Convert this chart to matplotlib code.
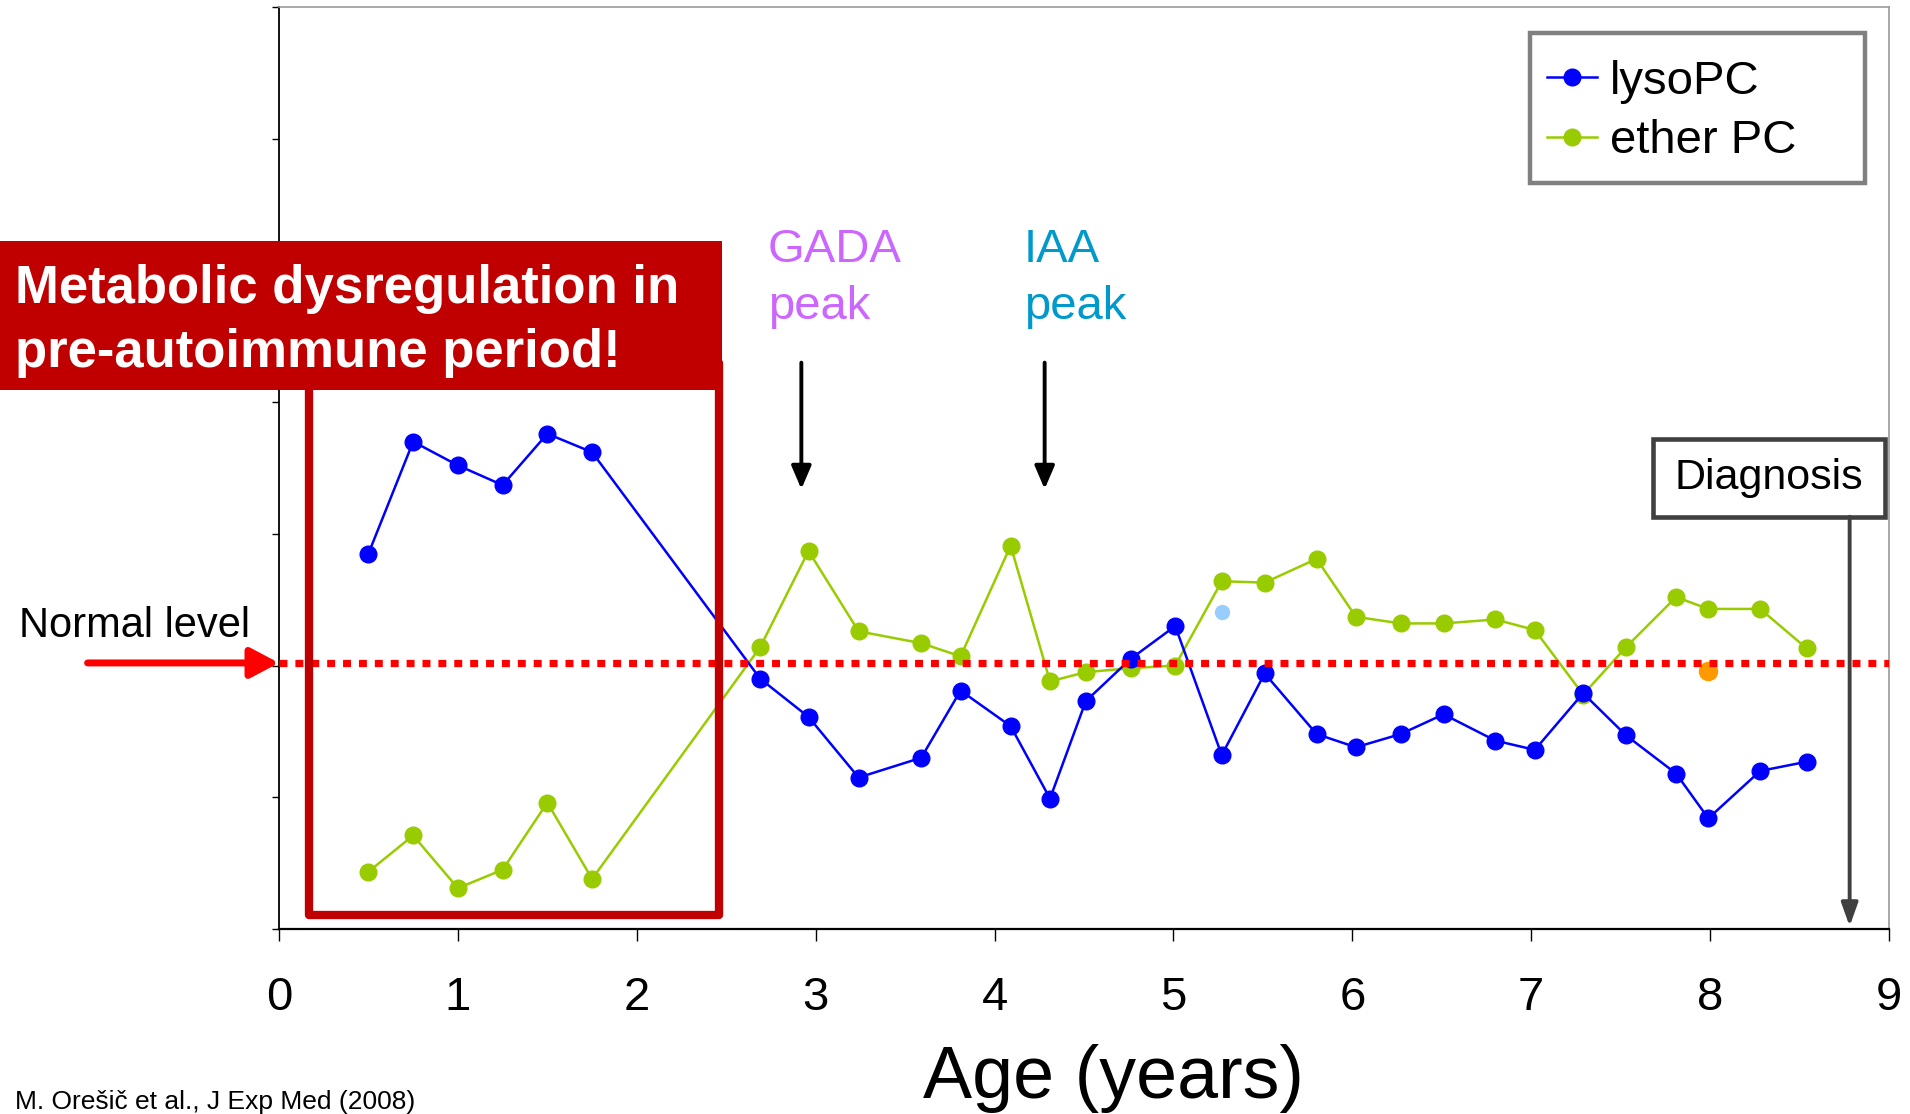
import matplotlib
matplotlib.use("Agg")
import matplotlib.pyplot as plt
from matplotlib.patches import Rectangle

#  DATA
age = [0.5, 0.75, 1.0, 1.25, 1.5, 1.75, 2.69, 2.96, 3.24, 3.59,
       3.81, 4.09, 4.31, 4.51, 4.76, 5.01, 5.27, 5.51, 5.80, 6.02,
       6.27, 6.51, 6.80, 7.02, 7.29, 7.53, 7.81, 7.99, 8.28, 8.54]
lyso_pc = [2.85, 3.70, 3.52, 3.37, 3.76, 3.62, 1.90, 1.61, 1.15, 1.30,
           1.81, 1.54, 0.99, 1.73, 2.05, 2.30, 1.32, 1.94, 1.48, 1.38,
           1.48, 1.63, 1.43, 1.36, 1.79, 1.47, 1.18, 0.84, 1.20, 1.27]
ether_pc = [0.435, 0.71, 0.31, 0.45, 0.96, 0.38, 2.14, 2.87, 2.26, 2.17,
            2.07, 2.91, 1.88, 1.95, 1.98, 2.00, 2.64, 2.63, 2.81, 2.37,
            2.32, 2.32, 2.35, 2.27, 1.78, 2.14, 2.52, 2.43, 2.43, 2.13]
# stray single points
extra_x = [5.27, 7.99]
extra_y = [2.41, 1.96]
extra_colors = ['#99CCFF', '#FF9900']
extra_sizes = [10, 13]

normal_level = 2.02
x_ticks = list(range(10))
y_ticks = list(range(8))

gada_age = 2.92
iaa_age = 4.28
diagnosis_age = 8.78

FONT = 'Liberation Sans'
plt.rcParams['font.family'] = [FONT, 'DejaVu Sans']

W, H = 1910, 1114
fig = plt.figure(figsize=(W / 100, H / 100), dpi=100)
ax = fig.add_axes([279 / W, 1 - 929 / H, (1889 - 279) / W, (929 - 7) / H])


def fx(px):
    return px / W


def fy(py):
    return 1 - py / H


#  SERIES
ax.plot(age, lyso_pc, color='#0000FF', lw=1.8, marker='o', ms=12,
        label='lysoPC', zorder=4)
ax.plot(age, ether_pc, color='#99CC00', lw=1.8, marker='o', ms=12,
        label='ether PC', zorder=3)
for x, y, c, s in zip(extra_x, extra_y, extra_colors, extra_sizes):
    ax.plot([x], [y], 'o', color=c, ms=s, zorder=5)

# normal level dotted line
ax.axhline(normal_level, color='#FF0000', lw=5.2, dashes=(1.1, 1.1), zorder=6)

#  AXES
ax.set_xlim(0, 9)
ax.set_ylim(0, 7)
ax.set_xticks(x_ticks)
ax.set_xticklabels([str(t) for t in x_ticks], fontsize=34, family=FONT)
ax.set_yticks(y_ticks)
ax.set_yticklabels([])
ax.tick_params(axis='x', length=8.5, width=1, pad=25, direction='out')
ax.tick_params(axis='y', length=5, width=1, direction='out')
ax.spines['left'].set_linewidth(1.3)
ax.spines['bottom'].set_linewidth(1.6)
for s in ['top', 'right']:
    ax.spines[s].set_color('#999999')
    ax.spines[s].set_linewidth(1.2)

fig.text(fx(1113), fy(1098), 'Age (years)', fontsize=53, ha='center',
         va='baseline', family=FONT)

#  LEGEND (frame drawn separately so it can be wider than the entries)
ax.add_patch(Rectangle((fx(1530), fy(183)), fx(1865) - fx(1530),
                       fy(33) - fy(183), transform=fig.transFigure,
                       fc='white', ec='#808080', lw=3.2, zorder=9,
                       clip_on=False))
leg = ax.legend(loc='upper left', bbox_to_anchor=(fx(1547), fy(60)),
                bbox_transform=fig.transFigure, borderaxespad=0,
                handlelength=1.06, handletextpad=0.28,
                labelspacing=0.32, borderpad=0, frameon=False,
                prop={'family': FONT, 'size': 34})
leg.set_zorder(10)
for h in leg.legend_handles:
    h.set_markersize(12)

#  PRE-AUTOIMMUNE BOX + BANNER
ax.add_patch(Rectangle((0.17, 0.11), 2.46 - 0.17, 4.3 - 0.11, fill=False,
                       ec='#C00000', lw=6, joinstyle='round', zorder=7,
                       clip_on=False))
fig.patches.append(Rectangle((0, fy(390)), fx(722), fy(241) - fy(390),
                             transform=fig.transFigure, fc='#C00000',
                             ec='none', zorder=10))
fig.text(fx(15), fy(303), 'Metabolic dysregulation in', color='white',
         fontsize=38, fontweight='bold', va='baseline', zorder=11, family=FONT)
fig.text(fx(15), fy(367), 'pre-autoimmune period!', color='white',
         fontsize=38, fontweight='bold', va='baseline', zorder=11, family=FONT)

#  PEAK ANNOTATIONS
fig.text(fx(768), fy(262), 'GADA', color='#CC66FF', fontsize=34,
         va='baseline', family=FONT)
fig.text(fx(768), fy(319), 'peak', color='#CC66FF', fontsize=34,
         va='baseline', family=FONT)
fig.text(fx(1024), fy(262), 'IAA', color='#0099CC', fontsize=34,
         va='baseline', family=FONT)
fig.text(fx(1024), fy(319), 'peak', color='#0099CC', fontsize=34,
         va='baseline', family=FONT)

for xa in [gada_age, iaa_age]:
    ax.annotate('', xy=(xa, 3.34), xytext=(xa, 4.30),
                arrowprops=dict(arrowstyle='-|>,head_length=0.7,head_width=0.3',
                                mutation_scale=20, lw=2.8, color='black',
                                shrinkA=0, shrinkB=0),
                annotation_clip=False)

#  NORMAL LEVEL LABEL
fig.text(fx(19), fy(637), 'Normal level', fontsize=30, va='baseline',
         family=FONT)
ax.annotate('', xy=(0, normal_level), xytext=(-1.07, normal_level),
            arrowprops=dict(arrowstyle='-|>,head_length=0.85,head_width=0.45',
                            mutation_scale=20, lw=5, color='#FF0000',
                            shrinkA=0, shrinkB=0),
            annotation_clip=False, zorder=8)

#  DIAGNOSIS
ax.add_patch(Rectangle((7.68, 3.13), 8.98 - 7.68, 3.72 - 3.13, fill=True,
                       fc='white', ec='#404040', lw=3.3, zorder=8,
                       clip_on=False))
ax.text(8.33, 3.425, 'Diagnosis', fontsize=31, ha='center', va='center',
        zorder=9, family=FONT)
ax.annotate('', xy=(diagnosis_age, 0.02), xytext=(diagnosis_age, 3.13),
            arrowprops=dict(arrowstyle='-|>,head_length=0.7,head_width=0.25',
                            mutation_scale=20, lw=2.8, color='#404040',
                            shrinkA=0, shrinkB=0),
            annotation_clip=False, zorder=8)

#  CITATION
fig.text(fx(15), fy(1109), 'M. Orešič et al., J Exp Med (2008)', fontsize=19,
         va='baseline', family=FONT)

plt.savefig('out.png', dpi=100)
